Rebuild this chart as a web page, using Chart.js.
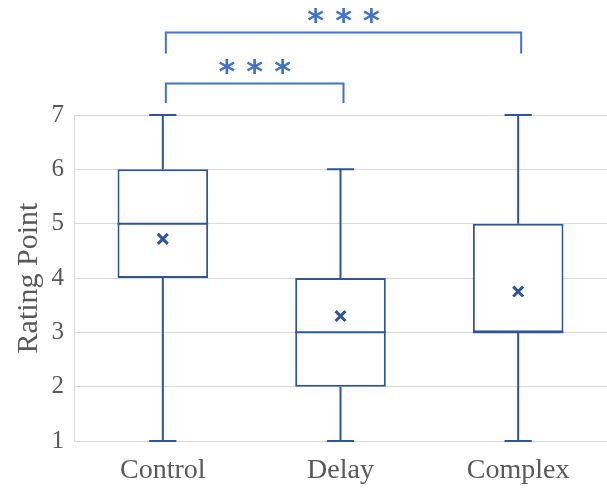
<!DOCTYPE html>
<html>
<head>
<meta charset="utf-8">
<script src="https://cdn.jsdelivr.net/npm/chart.js@4.4.1/dist/chart.umd.min.js"></script>
<style>
  body { margin: 0; background: #fff; }
  #chart { display: block; }
</style>
</head>
<body>
<canvas id="chart" width="607" height="490"></canvas>
<script>
// Box plot values
const categories = ['Control', 'Delay', 'Complex'];
const minValues = [1, 1, 1];
const q1Values = [4, 2, 3];
const medianValues = [5, 3, 3];
const q3Values = [6, 4, 5];
const maxValues = [7, 6, 7];
const meanValues = [4.72, 3.3, 3.75];
const yTicks = [1, 2, 3, 4, 5, 6, 7];

// Significance brackets (category index pairs)
const sigPairs = [[0, 1], [0, 2]];
const sigLabels = ['* * *', '* * *'];

const boxColor = '#2F5597';
const sigColor = '#4472C4';
const textColor = '#595959';
const gridColor = '#D9D9D9';

// Whiskers, caps and median lines
const whiskerPlugin = {
    id: 'whiskers',
    afterDatasetsDraw(chart) {
        const ctx = chart.ctx;
        const x = chart.scales.x;
        const y = chart.scales.y;
        const bars = chart.getDatasetMeta(0).data;
        ctx.save();
        ctx.strokeStyle = boxColor;
        ctx.lineWidth = 2;
        categories.forEach((cat, i) => {
            const cx = x.getPixelForValue(i);
            const half = bars[i].width / 2;
            const cap = bars[i].width * 0.15;
            ctx.beginPath();
            // lower whisker
            ctx.moveTo(cx, y.getPixelForValue(q1Values[i]));
            ctx.lineTo(cx, y.getPixelForValue(minValues[i]));
            ctx.moveTo(cx - cap, y.getPixelForValue(minValues[i]));
            ctx.lineTo(cx + cap, y.getPixelForValue(minValues[i]));
            // upper whisker
            ctx.moveTo(cx, y.getPixelForValue(q3Values[i]));
            ctx.lineTo(cx, y.getPixelForValue(maxValues[i]));
            ctx.moveTo(cx - cap, y.getPixelForValue(maxValues[i]));
            ctx.lineTo(cx + cap, y.getPixelForValue(maxValues[i]));
            // median
            ctx.moveTo(cx - half, y.getPixelForValue(medianValues[i]));
            ctx.lineTo(cx + half, y.getPixelForValue(medianValues[i]));
            ctx.stroke();
        });
        ctx.restore();
    }
};

// Significance brackets above the plot
const sigPlugin = {
    id: 'significance',
    afterDraw(chart) {
        const ctx = chart.ctx;
        const x = chart.scales.x;
        const y = chart.scales.y;
        const levels = [[7.58, 7.22, 7.85], [8.52, 8.13, 8.8]];
        ctx.save();
        ctx.strokeStyle = sigColor;
        ctx.fillStyle = sigColor;
        ctx.lineWidth = 2;
        sigPairs.forEach((pair, k) => {
            const x1 = x.getPixelForValue(pair[0]) + 3;
            const x2 = x.getPixelForValue(pair[1]) + 3;
            const yTop = y.getPixelForValue(levels[k][0]);
            const yEnd = y.getPixelForValue(levels[k][1]);
            ctx.beginPath();
            ctx.moveTo(x1, yEnd);
            ctx.lineTo(x1, yTop);
            ctx.lineTo(x2, yTop);
            ctx.lineTo(x2, yEnd);
            ctx.stroke();
            ctx.font = 'bold 32px "DejaVu Sans"';
            ctx.textAlign = 'center';
            ctx.textBaseline = 'middle';
            ctx.fillText(sigLabels[k], (x1 + x2) / 2, y.getPixelForValue(levels[k][2]) + 5);
        });
        ctx.restore();
    }
};

new Chart(document.getElementById('chart'), {
    data: {
        labels: categories,
        datasets: [
            {
                type: 'bar',
                order: 2,
                data: q1Values.map((q, i) => [q, q3Values[i]]),
                backgroundColor: '#ffffff',
                borderColor: boxColor,
                borderWidth: 2,
                borderSkipped: false,
                barPercentage: 0.51,
                categoryPercentage: 1
            },
            {
                type: 'line',
                order: 1,
                data: meanValues,
                showLine: false,
                pointStyle: 'crossRot',
                pointRadius: 7,
                pointBorderWidth: 3,
                borderColor: boxColor,
                backgroundColor: boxColor
            }
        ]
    },
    options: {
        responsive: false,
        animation: false,
        layout: { autoPadding: false, padding: { top: 115, right: 0, left: 0, bottom: 0 } },
        plugins: {
            legend: { display: false },
            tooltip: { enabled: false }
        },
        scales: {
            x: {
                grid: { display: false },
                border: { display: true, color: gridColor, width: 1 },
                ticks: {
                    color: textColor,
                    padding: 5,
                    font: { family: '"Liberation Serif"', size: 28 }
                },
                afterFit(scale) {
                    scale.height = 49;
                    scale.paddingLeft = 0;
                    scale.paddingRight = 0;
                }
            },
            y: {
                min: 1,
                max: 7,
                afterBuildTicks(scale) { scale.ticks = yTicks.map(v => ({ value: v })); },
                grid: { color: gridColor, drawTicks: false },
                border: { display: true, color: gridColor },
                ticks: {
                    color: textColor,
                    padding: 10,
                    font: { family: '"Liberation Serif"', size: 25 }
                },
                title: {
                    display: true,
                    text: 'Rating Point',
                    color: textColor,
                    padding: { top: 11, bottom: 0 },
                    font: { family: '"Liberation Serif"', size: 30 }
                },
                afterFit(scale) { scale.width = 74; }
            }
        }
    },
    plugins: [whiskerPlugin, sigPlugin]
});
</script>
</body>
</html>
